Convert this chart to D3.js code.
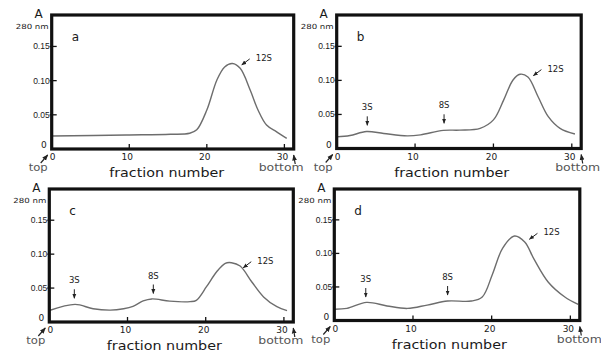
<!DOCTYPE html>
<html>
<head>
<meta charset="utf-8">
<script src="https://cdn.jsdelivr.net/npm/d3@7"></script>
<style>
  body { margin: 0; background: #fff; }
  svg { display: block; }
  text { font-family: "DejaVu Sans", sans-serif; fill: #1a1a1a; }
</style>
</head>
<body>
<svg id="chart" width="601" height="353"></svg>
<script>
// fraction number / absorbance at 280 nm
const fracA = [0, 9.6, 15.3, 17.8, 18.7, 20.0, 21.3, 22.3, 23.3, 24.3, 25.6, 26.6, 27.7, 29.0, 30.3];
const absA  = [0.019, 0.0205, 0.0215, 0.023, 0.028, 0.057, 0.101, 0.120, 0.125, 0.118, 0.086, 0.057, 0.035, 0.025, 0.0156];

const fracB = [0, 1.7, 3.8, 6.0, 9.0, 10.7, 13.6, 15.7, 18.3, 20.0, 21.3, 22.5, 23.4, 24.4, 25.7, 27.0, 28.5, 30.4];
const absB  = [0.017, 0.019, 0.025, 0.022, 0.0185, 0.020, 0.0266, 0.027, 0.0296, 0.042, 0.071, 0.1006, 0.109, 0.105, 0.076, 0.0467, 0.0296, 0.0213];

const fracC = [0, 3.3, 5.6, 7.8, 9.5, 10.7, 12.0, 13.1, 15.4, 18.0, 18.8, 20.1, 21.4, 22.5, 23.3, 24.4, 25.9, 27.4, 29.1, 30.4];
const absC  = [0.017, 0.026, 0.0195, 0.0175, 0.0195, 0.023, 0.031, 0.034, 0.0307, 0.030, 0.032, 0.052, 0.074, 0.0865, 0.0874, 0.0825, 0.059, 0.037, 0.0225, 0.0167];

const fracD = [0, 1.6, 4.1, 6.7, 9.3, 11.8, 14.4, 17.4, 18.8, 20.1, 21.4, 22.9, 24.2, 25.4, 27.2, 29.3, 31.0];
const absD  = [0.0168, 0.018, 0.027, 0.0217, 0.018, 0.023, 0.029, 0.029, 0.035, 0.069, 0.108, 0.126, 0.117, 0.091, 0.057, 0.035, 0.024];

// sedimentation markers: label, fraction, absorbance where the arrow points
const peaksA = [["12S", 24.5, 0.123]];
const peaksB = [["3S", 3.9, 0.034], ["8S", 13.7, 0.037], ["12S", 25.1, 0.107]];
const peaksC = [["3S", 3.2, 0.035], ["8S", 13.3, 0.042], ["12S", 24.8, 0.080]];
const peaksD = [["3S", 4.0, 0.035], ["8S", 14.4, 0.038], ["12S", 24.8, 0.121]];

const xTicks = [0, 10, 20, 30];
const yTicks = [0.05, 0.10, 0.15];
const yTickLabels = ["0.05", "0.10", "0.15"];
const panelLetters = ["a", "b", "c", "d"];

const svg = d3.select('#chart');

// arrow head
svg.append('defs').append('marker')
  .attr('id', 'head')
  .attr('viewBox', '0 0 10 10')
  .attr('refX', 9).attr('refY', 5)
  .attr('markerWidth', 5).attr('markerHeight', 5)
  .attr('orient', 'auto')
  .append('path')
  .attr('d', 'M0,1 L10,5 L0,9 Z')
  .attr('fill', '#222');

const panels = [
  {left: 51.7, top: 15, w: 242, h: 134, frac: fracA, abs: absA, peaks: peaksA, bottomDx: -35},
  {left: 336.7, top: 15, w: 244.5, h: 133.5, frac: fracB, abs: absB, peaks: peaksB, bottomDx: -26},
  {left: 49.3, top: 189, w: 244, h: 133, frac: fracC, abs: absC, peaks: peaksC, bottomDx: -35},
  {left: 334.3, top: 189, w: 245.5, h: 131.5, frac: fracD, abs: absD, peaks: peaksD, bottomDx: -23}
];

panels.forEach(function(p, i) {
  const L = p.left, T = p.top, R = p.left + p.w, B = p.top + p.h;

  const x = d3.scaleLinear().domain([0, 31.2]).range([L, R]);
  const y = d3.scaleLinear().domain([0, 0.196]).range([B, T]);

  const g = svg.append('g');

  // curve
  const line = d3.line()
    .x(function(d) { return x(d[0]); })
    .y(function(d) { return y(d[1]); })
    .curve(d3.curveCatmullRom.alpha(0.5));

  g.append('path')
    .datum(d3.zip(p.frac, p.abs))
    .attr('d', line)
    .attr('fill', 'none')
    .attr('stroke', '#6d6d6d')
    .attr('stroke-width', 1.4);

  // frame
  g.append('rect')
    .attr('x', L).attr('y', T)
    .attr('width', p.w).attr('height', p.h)
    .attr('fill', 'none')
    .attr('stroke', '#111')
    .attr('stroke-width', 3.2);

  // y ticks
  yTicks.forEach(function(t, k) {
    g.append('line')
      .attr('x1', L - 2).attr('x2', L + 5)
      .attr('y1', y(t)).attr('y2', y(t))
      .attr('stroke', '#111').attr('stroke-width', 1.3);
    g.append('text')
      .attr('x', L - 2).attr('y', y(t) + 3)
      .attr('text-anchor', 'end')
      .style('font-size', '8.5px')
      .style('font-family', '"Liberation Sans Narrow", "Liberation Sans", sans-serif')
      .text(yTickLabels[k]);
  });
  g.append('text')
    .attr('x', L - 5).attr('y', B - 1)
    .attr('text-anchor', 'end')
    .style('font-size', '9px')
    .text('0');

  // x ticks
  xTicks.forEach(function(t) {
    if (t > 0) {
      g.append('line')
        .attr('x1', x(t)).attr('x2', x(t))
        .attr('y1', B).attr('y2', B - 5)
        .attr('stroke', '#111').attr('stroke-width', 1.3);
    }
    g.append('text')
      .attr('x', x(t) + (t === 0 ? 1 : -2)).attr('y', B + 11)
      .attr('text-anchor', 'middle')
      .style('font-size', '9px')
      .text(t);
  });

  // axis title
  g.append('text')
    .attr('x', L - 13).attr('y', T + 3)
    .attr('text-anchor', 'middle')
    .style('font-size', '12px')
    .text('A');
  g.append('text')
    .attr('x', L - 3).attr('y', T + 14)
    .attr('text-anchor', 'end')
    .attr('textLength', 33).attr('lengthAdjust', 'spacingAndGlyphs')
    .style('font-size', '7px')
    .text('280 nm');

  // panel letter
  g.append('text')
    .attr('x', L + 20).attr('y', T + 26)
    .style('font-size', '12px')
    .text(panelLetters[i]);

  // x title
  g.append('text')
    .attr('x', L + 115).attr('y', B + 28)
    .attr('text-anchor', 'middle')
    .attr('textLength', 115).attr('lengthAdjust', 'spacingAndGlyphs')
    .style('font-size', '13px')
    .text('fraction number');

  // top / bottom of the gradient
  g.append('text')
    .attr('x', L - 23).attr('y', B + 22)
    .attr('textLength', 19).attr('lengthAdjust', 'spacingAndGlyphs')
    .style('font-size', '10px')
    .style('fill', '#555')
    .text('top');
  g.append('line')
    .attr('x1', L - 11).attr('y1', B + 14)
    .attr('x2', L - 4).attr('y2', B + 6)
    .attr('stroke', '#222').attr('stroke-width', 1.2)
    .attr('marker-end', 'url(#head)');

  g.append('text')
    .attr('x', R + p.bottomDx).attr('y', B + 22)
    .attr('textLength', 45).attr('lengthAdjust', 'spacingAndGlyphs')
    .style('font-size', '10px')
    .style('fill', '#555')
    .text('bottom');
  g.append('line')
    .attr('x1', R + 1.5).attr('y1', B + 15)
    .attr('x2', R).attr('y2', B + 6)
    .attr('stroke', '#222').attr('stroke-width', 1.2)
    .attr('marker-end', 'url(#head)');

  // peak markers
  p.peaks.forEach(function(pk) {
    const px = x(pk[1]), py = y(pk[2]);
    if (pk[0] === '12S') {
      g.append('line')
        .attr('x1', px + 8).attr('y1', py - 6)
        .attr('x2', px).attr('y2', py)
        .attr('stroke', '#222').attr('stroke-width', 1)
        .attr('marker-end', 'url(#head)');
      g.append('text')
        .attr('x', px + 14).attr('y', py - 4)
        .style('font-size', '8.5px')
        .text(pk[0]);
    } else {
      g.append('line')
        .attr('x1', px).attr('y1', py - 9)
        .attr('x2', px).attr('y2', py)
        .attr('stroke', '#222').attr('stroke-width', 1)
        .attr('marker-end', 'url(#head)');
      g.append('text')
        .attr('x', px).attr('y', py - 15)
        .attr('text-anchor', 'middle')
        .style('font-size', '8.5px')
        .text(pk[0]);
    }
  });
});
</script>
</body>
</html>
